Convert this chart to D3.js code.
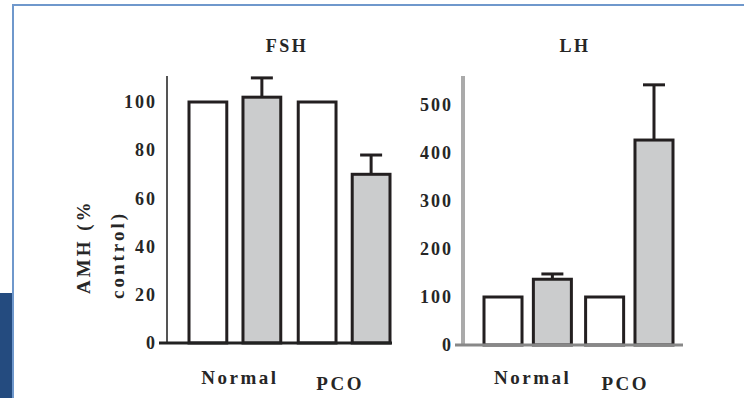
<!DOCTYPE html>
<html>
<head>
<meta charset="utf-8">
<script src="https://cdn.jsdelivr.net/npm/d3@7"></script>
<style>
  html, body { margin: 0; padding: 0; background: #fff; }
</style>
</head>
<body>
<div id="main"></div>
<script>
'use strict';

// data (% of control)
var groups = ['Normal', 'PCO'];
var series = ['control', 'treated'];

var fshValues = [[100, 102], [100, 70]];
var fshErrors = [[0, 8], [0, 8]];
var fshTicks = [0, 20, 40, 60, 80, 100];

var lhValues = [[100, 137], [100, 427]];
var lhErrors = [[0, 11], [0, 115]];
var lhTicks = [0, 100, 200, 300, 400, 500];

var yTitle = ['AMH (%', 'control)'];

var FONT = "'Liberation Serif', 'Times New Roman', 'DejaVu Serif', serif";

var width = 744, height = 398;
var svg = d3.select('#main').append('svg')
  .attr('width', width).attr('height', height);

// slide frame
svg.append('path')
  .attr('d', 'M13,398 V5 H744')
  .attr('fill', 'none')
  .attr('stroke', '#6f98cc')
  .attr('stroke-width', 2);
svg.append('rect')
  .attr('x', 0).attr('y', 293).attr('width', 12).attr('height', 105)
  .attr('fill', '#244b7f');

var fill = d3.scaleOrdinal().domain(series).range(['#ffffff', '#cbcccd']);

var panels = [
  { title: 'FSH', values: fshValues, errors: fshErrors, ticks: fshTicks,
    domain: [0, 100], y0: 343, y1: 102, axisX: 167, axisTop: 76, xEnd: 392,
    band: [189, 390], inner: 0.3, pad: 0.16,
    yAxisColor: '#555', yAxisW: 2, xAxisColor: '#222', xAxisW: 3, titleX: 287 },
  { title: 'LH', values: lhValues, errors: lhErrors, ticks: lhTicks,
    domain: [0, 500], y0: 345, y1: 105, axisX: 463, axisTop: 76, xEnd: 683,
    band: [484, 673], inner: 0.23, pad: 0.14,
    yAxisColor: '#aaa', yAxisW: 4, xAxisColor: '#888', xAxisW: 3, titleX: 575 }
];

function serif(sel, size, spacing) {
  sel.style('font-family', FONT)
    .style('font-weight', 'bold')
    .style('font-size', size + 'px')
    .style('letter-spacing', spacing + 'px')
    .style('fill', '#262626');
}

panels.forEach(function(p) {
  var g = svg.append('g');

  var y = d3.scaleLinear().domain(p.domain).range([p.y0, p.y1]);
  var x = d3.scaleBand().domain(groups).range(p.band).paddingInner(p.pad).paddingOuter(0);
  var xi = d3.scaleBand().domain(series).range([0, x.bandwidth()]).paddingInner(p.inner);

  // y axis line
  g.append('line')
    .attr('x1', p.axisX).attr('x2', p.axisX)
    .attr('y1', p.axisTop).attr('y2', p.y0)
    .attr('stroke', p.yAxisColor).attr('stroke-width', p.yAxisW);

  // tick labels
  var axis = g.append('g')
    .attr('transform', 'translate(' + p.axisX + ',0)')
    .call(d3.axisLeft(y).tickValues(p.ticks).tickSize(0).tickPadding(10));
  axis.select('.domain').remove();
  axis.selectAll('text').call(serif, 18, 2);

  // bars
  var grp = g.selectAll('.grp')
    .data(groups).enter().append('g')
    .attr('transform', function(d) { return 'translate(' + x(d) + ',0)'; });

  grp.each(function(gname, gi) {
    var sel = d3.select(this);
    series.forEach(function(s, si) {
      var v = p.values[gi][si];
      var e = p.errors[gi][si];
      var cx = xi(s) + xi.bandwidth() / 2;
      if (e > 0) {
        sel.append('line')
          .attr('x1', cx).attr('x2', cx)
          .attr('y1', y(v)).attr('y2', y(v + e))
          .attr('stroke', '#231f20').attr('stroke-width', 3);
        sel.append('line')
          .attr('x1', cx - 11).attr('x2', cx + 11)
          .attr('y1', y(v + e)).attr('y2', y(v + e))
          .attr('stroke', '#231f20').attr('stroke-width', 3);
      }
      sel.append('rect')
        .attr('x', xi(s)).attr('y', y(v))
        .attr('width', xi.bandwidth()).attr('height', y(0) - y(v))
        .attr('fill', fill(s))
        .attr('stroke', '#231f20').attr('stroke-width', 3);
    });
  });

  // x axis line (with the little 0 tick on the left)
  g.append('line')
    .attr('x1', p.axisX - 8).attr('x2', p.xEnd)
    .attr('y1', p.y0).attr('y2', p.y0)
    .attr('stroke', p.xAxisColor).attr('stroke-width', p.xAxisW);

  // group labels (nudged a little like the original)
  var labelDx = [5, -4], labelDy = [0, 6];
  g.selectAll('.xl')
    .data(groups).enter().append('text')
    .attr('x', function(d, i) { return x(d) + x.bandwidth() / 2 + labelDx[i]; })
    .attr('y', function(d, i) { return 384 + labelDy[i]; })
    .attr('text-anchor', 'middle')
    .text(function(d) { return d; })
    .call(serif, 19, 2.5);

  // panel title
  g.append('text')
    .attr('x', p.titleX).attr('y', 52)
    .attr('text-anchor', 'middle')
    .text(p.title)
    .call(serif, 18, 2.5);
});

// y title, two rotated lines
svg.selectAll('.yt')
  .data(yTitle).enter().append('text')
  .attr('transform', function(d, i) {
    return 'translate(' + (i === 0 ? 90 : 124) + ',' + (i === 0 ? 294 : 299) + ') rotate(-90)';
  })
  .text(function(d) { return d; })
  .call(serif, 19, 3);
</script>
</body>
</html>
